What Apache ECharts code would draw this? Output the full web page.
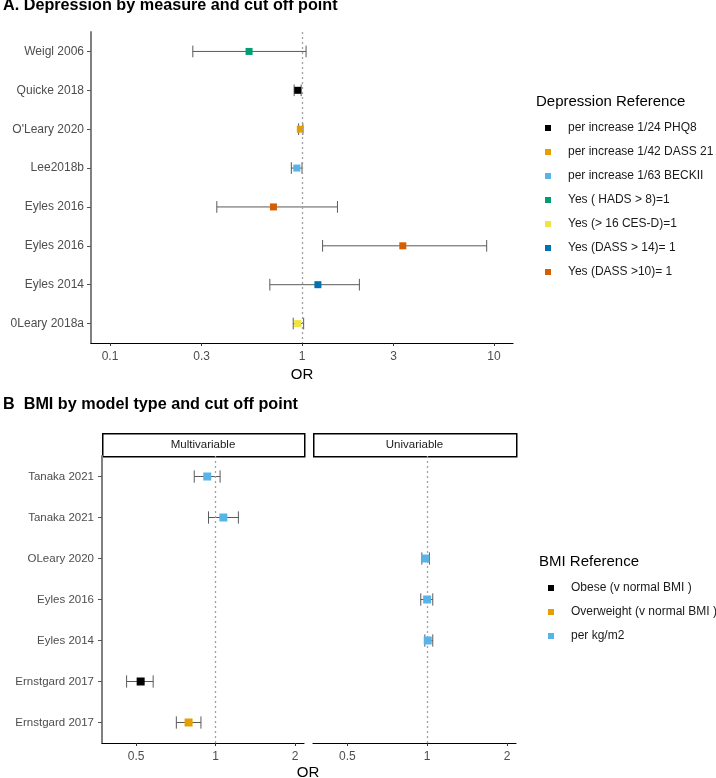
<!DOCTYPE html>
<html lang="en">
<head>
  <meta charset="UTF-8">
  <script src="https://cdn.jsdelivr.net/npm/echarts@6/dist/echarts.min.js"></script>
  <title>depression and BMI forest plots</title>
  <style>
    html, body { margin: 0; padding: 0; background: #fff; }
  </style>
</head>
<body>
<div id="chart" style="width: 716px; height: 778px;"></div>
<script type="text/javascript">
  // panel A: depression, rows listed top to bottom
  let studiesA = ['Weigl 2006', 'Quicke 2018', "O'Leary 2020", 'Lee2018b', 'Eyles 2016', 'Eyles 2016', 'Eyles 2014', '0Leary 2018a'];
  let orA      = [0.53, 0.95, 0.98, 0.94, 0.71, 3.35, 1.21, 0.95];
  let lowA     = [0.27, 0.91, 0.96, 0.88, 0.36, 1.28, 0.68, 0.90];
  let highA    = [1.05, 0.99, 1.01, 1.00, 1.53, 9.16, 1.99, 1.02];
  let refA     = [3, 0, 1, 2, 6, 6, 5, 4];
  let refNamesA = ['per increase 1/24 PHQ8', 'per increase 1/42 DASS 21', 'per increase 1/63 BECKII',
    'Yes ( HADS > 8)=1', 'Yes (> 16 CES-D)=1', 'Yes (DASS > 14)= 1', 'Yes (DASS >10)= 1'];
  let refColorsA = ['#000000', '#E69F00', '#56B4E9', '#009E73', '#F0E442', '#0072B2', '#D55E00'];
  let ticksA = [0.1, 0.3, 1, 3, 10];

  // panel B: BMI, rows listed top to bottom
  let studiesB = ['Tanaka 2021', 'Tanaka 2021', 'OLeary 2020', 'Eyles 2016', 'Eyles 2014', 'Ernstgard 2017', 'Ernstgard 2017'];
  let modelB   = ['Multivariable', 'Multivariable', 'Univariable', 'Univariable', 'Univariable', 'Multivariable', 'Multivariable'];
  let orB      = [0.93, 1.07, 0.985, 1.00, 1.005, 0.52, 0.79];
  let lowB     = [0.83, 0.94, 0.955, 0.946, 0.98, 0.46, 0.71];
  let highB    = [1.04, 1.22, 1.02, 1.05, 1.05, 0.58, 0.88];
  let refB     = [2, 2, 2, 2, 2, 0, 1];
  let refNamesB = ['Obese (v normal BMI )', 'Overweight (v normal BMI )', 'per kg/m2'];
  let refColorsB = ['#000000', '#E69F00', '#56B4E9'];
  let facets = ['Multivariable', 'Univariable'];
  let ticksB = [0.5, 1, 2];

  const FONT = 'Liberation Sans, Arial, sans-serif';
  const log10 = v => Math.log10(v);
  const log2 = v => Math.log2(v);

  // data item: [low, row, high]
  function errorBarItem(params, api) {
    let y = api.value(1);
    let p1 = api.coord([api.value(0), y]);
    let p2 = api.coord([api.value(2), y]);
    let h = api.size([0, 1])[1] * 0.3;
    let style = { stroke: '#5a5a5a', lineWidth: 1 };
    return {
      type: 'group',
      children: [
        { type: 'line', shape: { x1: p1[0], y1: p1[1], x2: p2[0], y2: p2[1] }, style: style },
        { type: 'line', shape: { x1: p1[0], y1: p1[1] - h / 2, x2: p1[0], y2: p1[1] + h / 2 }, style: style },
        { type: 'line', shape: { x1: p2[0], y1: p2[1] - h / 2, x2: p2[0], y2: p2[1] + h / 2 }, style: style }
      ]
    };
  }

  function valueAxis(gridIndex, lo, hi, ticks, tf, name) {
    return {
      type: 'value', gridIndex: gridIndex, min: lo, max: hi,
      name: name, nameLocation: 'middle', nameGap: 24,
      nameTextStyle: { fontFamily: FONT, fontSize: 15, color: '#000' },
      axisLine: { show: true, onZero: false, lineStyle: { color: '#000', width: 1.2 } },
      axisTick: { show: true, length: 3, lineStyle: { color: '#333' }, customValues: ticks.map(tf) },
      axisLabel: {
        customValues: ticks.map(tf), margin: 8, fontFamily: FONT, fontSize: 12, color: '#4d4d4d',
        formatter: function (v) {
          for (let t of ticks) { if (Math.abs(tf(t) - v) < 1e-6) return String(t); }
          return '';
        }
      },
      splitLine: { show: false }
    };
  }

  function catAxis(gridIndex, cats, showLabels, fontSize, margin) {
    return {
      type: 'category', gridIndex: gridIndex, data: cats, inverse: true,
      axisLine: { show: showLabels, onZero: false, lineStyle: { color: '#808080', width: 2 } },
      axisTick: { show: showLabels, alignWithLabel: true, length: 4, lineStyle: { color: '#555' } },
      axisLabel: { show: showLabels, margin: margin, fontFamily: FONT, fontSize: fontSize, color: '#4d4d4d' },
      splitLine: { show: false }
    };
  }

  function refLine(xv) {
    return {
      silent: true, symbol: 'none', label: { show: false },
      lineStyle: { type: [2, 3], color: '#a0a0a0', width: 1.3 },
      data: [{ xAxis: xv }]
    };
  }

  let series = [];

  // panel A error bars and points
  series.push({
    type: 'custom', xAxisIndex: 0, yAxisIndex: 0, renderItem: errorBarItem, z: 2,
    data: studiesA.map((s, i) => [log10(lowA[i]), i, log10(highA[i])])
  });
  refNamesA.forEach(function (name, k) {
    let pts = [];
    studiesA.forEach((s, i) => { if (refA[i] === k) pts.push([log10(orA[i]), i]); });
    series.push({
      type: 'scatter', name: name, xAxisIndex: 0, yAxisIndex: 0, z: 3,
      symbol: 'rect', symbolSize: 7, itemStyle: { color: refColorsA[k], opacity: 1 },
      data: pts,
      markLine: k === 0 ? refLine(0) : undefined
    });
  });

  // panel B, one grid per facet
  facets.forEach(function (f, g) {
    let gi = g + 1;
    series.push({
      type: 'custom', xAxisIndex: gi, yAxisIndex: gi, renderItem: errorBarItem, z: 2,
      data: studiesB.map((s, i) => modelB[i] === f ? [log2(lowB[i]), i, log2(highB[i])] : null).filter(d => d)
    });
    let first = true;
    refNamesB.forEach(function (name, k) {
      let pts = [];
      studiesB.forEach((s, i) => { if (refB[i] === k && modelB[i] === f) pts.push([log2(orB[i]), i]); });
      if (!pts.length) return;
      series.push({
        type: 'scatter', name: name, xAxisIndex: gi, yAxisIndex: gi, z: 3,
        symbol: 'rect', symbolSize: 8, itemStyle: { color: refColorsB[k], opacity: 1 },
        data: pts,
        markLine: first ? refLine(0) : undefined
      });
      first = false;
    });
  });

  let legendIcon = 'path://M0,0L1,0L1,1L0,1Z';
  let legendBase = {
    orient: 'vertical', icon: legendIcon, itemWidth: 30, itemHeight: 6, itemGap: 10, padding: 0,
    selectedMode: false,
    textStyle: { fontFamily: FONT, fontSize: 12, lineHeight: 14, color: '#1a1a1a' }
  };

  let stripStyle = { fill: '#fff', stroke: '#000', lineWidth: 1.5 };
  let stripText = { fontFamily: FONT, fontSize: 11.5, fill: '#1a1a1a', align: 'center', verticalAlign: 'middle' };

  let option = {
    animation: false,
    backgroundColor: '#fff',
    title: [
      { text: 'A. Depression by measure and cut off point', left: 3, top: -2.5, padding: 0,
        textStyle: { fontFamily: FONT, fontSize: 16.2, fontWeight: 'bold', color: '#000' } },
      { text: 'B  BMI by model type and cut off point', left: 3, top: 396.5, padding: 0,
        textStyle: { fontFamily: FONT, fontSize: 16.2, fontWeight: 'bold', color: '#000' } },
      { text: 'Depression Reference', left: 536, top: 94, padding: 0,
        textStyle: { fontFamily: FONT, fontSize: 15, fontWeight: 'normal', color: '#000' } },
      { text: 'BMI Reference', left: 539, top: 554, padding: 0,
        textStyle: { fontFamily: FONT, fontSize: 15, fontWeight: 'normal', color: '#000' } }
    ],
    legend: [
      Object.assign({}, legendBase, { data: refNamesA, left: 545, top: 121 }),
      Object.assign({}, legendBase, { data: refNamesB, left: 548, top: 581 })
    ],
    grid: [
      { left: 91, top: 32, width: 422, height: 311 },
      { left: 102, top: 456, width: 202, height: 287 },
      { left: 313, top: 456, width: 203, height: 287 }
    ],
    xAxis: [
      valueAxis(0, -1.099, 1.099, ticksA, log10, 'OR'),
      valueAxis(1, -1.43, 1.113, ticksB, log2, ''),
      valueAxis(2, -1.43, 1.113, ticksB, log2, '')
    ],
    yAxis: [
      catAxis(0, studiesA, true, 12, 7),
      catAxis(1, studiesB, true, 11.5, 8),
      catAxis(2, studiesB, false, 11.5, 8)
    ],
    graphic: [
      { type: 'rect', left: 102, top: 433, shape: { width: 202, height: 23 }, style: stripStyle },
      { type: 'text', x: 203, y: 444.5, style: Object.assign({ text: facets[0] }, stripText) },
      { type: 'rect', left: 313, top: 433, shape: { width: 203, height: 23 }, style: stripStyle },
      { type: 'text', x: 414.5, y: 444.5, style: Object.assign({ text: facets[1] }, stripText) },
      { type: 'text', x: 308, y: 773, style: { text: 'OR', fontFamily: FONT, fontSize: 15, fill: '#000', align: 'center', verticalAlign: 'middle' } }
    ],
    series: series
  };

  let myChart = echarts.init(document.getElementById('chart'));
  myChart.setOption(option);
</script>
</body>
</html>
